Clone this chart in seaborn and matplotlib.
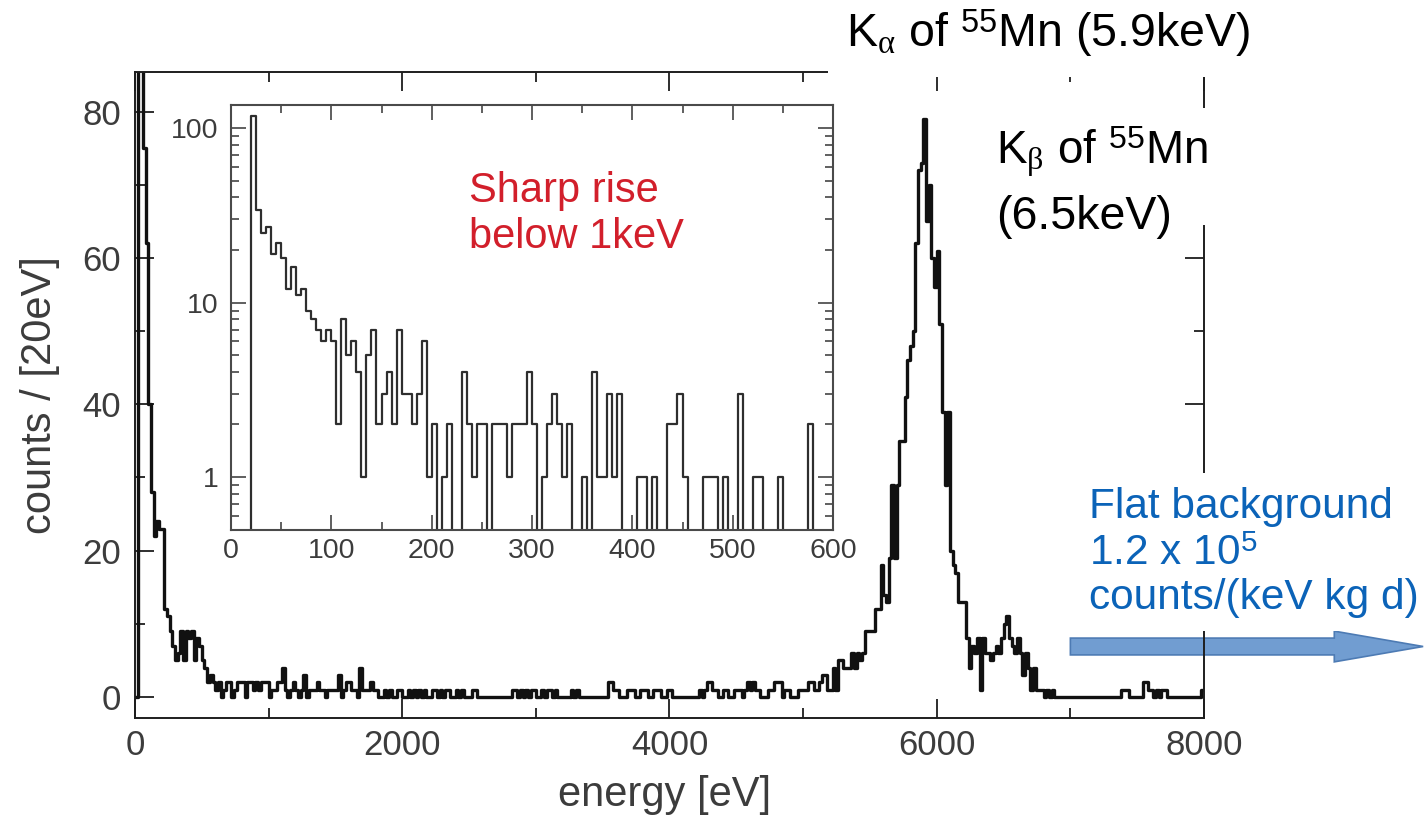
import numpy as np
import pandas as pd
import matplotlib
matplotlib.use("Agg")
import matplotlib.pyplot as plt
import seaborn as sns
from matplotlib.patches import FancyArrow, Rectangle
from matplotlib.ticker import MultipleLocator, LogLocator, FixedLocator, NullFormatter, FuncFormatter

# ---------------------------------------------------------------
# Full spectrum: counts per 20 eV bin, 0 - 8000 eV (400 bins)
# ---------------------------------------------------------------
spectrum_bin_ev = 20
spectrum_counts = [
    0, 150, 115, 75, 62, 40, 28, 22, 24, 23, 23, 12, 11, 9, 7, 5, 6, 9, 5, 9,
    8, 9, 5, 8, 7, 5, 4, 2, 3, 2, 1, 2, 0, 1, 2, 2, 0, 1, 2, 2,
    2, 0, 2, 2, 1, 2, 1, 2, 2, 2, 0, 1, 1, 2, 2, 4, 1, 0, 1, 2,
    1, 0, 1, 3, 0, 1, 1, 1, 2, 1, 1, 0, 1, 1, 1, 1, 3, 0, 1, 2,
    2, 1, 1, 0, 4, 1, 1, 1, 2, 1, 1, 0, 0, 1, 0, 1, 0, 0, 1, 1,
    0, 0, 1, 0, 1, 0, 1, 0, 1, 0, 0, 1, 1, 0, 1, 0, 1, 1, 0, 0,
    1, 0, 1, 0, 0, 0, 1, 1, 0, 0, 0, 0, 0, 0, 0, 0, 0, 0, 0, 0,
    0, 1, 1, 0, 1, 0, 1, 0, 1, 1, 0, 0, 1, 0, 1, 1, 0, 1, 0, 0,
    0, 0, 0, 1, 0, 1, 0, 0, 0, 0, 0, 0, 0, 0, 0, 0, 0, 2, 2, 1,
    1, 0, 0, 0, 1, 1, 1, 0, 0, 1, 1, 1, 0, 0, 1, 1, 1, 0, 0, 1,
    1, 0, 0, 0, 0, 0, 0, 0, 0, 0, 0, 1, 0, 1, 2, 2, 1, 1, 0, 0,
    1, 1, 0, 0, 1, 1, 1, 0, 1, 2, 1, 2, 1, 1, 0, 0, 0, 1, 1, 2,
    2, 2, 0, 1, 1, 0, 0, 0, 1, 1, 1, 1, 2, 2, 1, 1, 2, 3, 3, 1,
    1, 4, 1, 5, 5, 4, 4, 4, 6, 4, 6, 5, 6, 9, 9, 9, 9, 12, 12, 18,
    14, 13, 19, 29, 19, 29, 35, 35, 41, 46, 48, 50, 62, 72, 73, 79, 65, 70, 60, 56,
    61, 51, 39, 29, 39, 20, 18, 17, 13, 13, 13, 8, 4, 7, 6, 8, 1, 8, 6, 6,
    5, 6, 7, 6, 8, 10, 11, 8, 7, 6, 8, 6, 3, 6, 4, 1, 4, 1, 1, 1,
    0, 1, 0, 1, 0, 0, 0, 0, 0, 0, 0, 0, 0, 0, 0, 0, 0, 0, 0, 0,
    0, 0, 0, 0, 0, 0, 0, 0, 0, 1, 1, 1, 0, 0, 0, 0, 0, 2, 2, 1,
    1, 0, 1, 0, 1, 1, 0, 0, 0, 0, 0, 0, 0, 0, 0, 0, 0, 0, 0, 1,
]

# ---------------------------------------------------------------
# Low-energy region: counts per 5 eV bin, 0 - 600 eV (120 bins)
# ---------------------------------------------------------------
zoom_bin_ev = 5
zoom_counts = [
    0, 0, 0, 0, 117, 34, 25, 27, 19, 22, 18, 12, 16, 11, 12, 9, 8, 7, 6, 7,
    6, 2, 8, 5, 6, 4, 1, 5, 7, 2, 3, 4, 2, 7, 3, 3, 2, 3, 6, 1,
    2, 0, 1, 2, 0, 0, 4, 2, 1, 2, 2, 0, 2, 2, 2, 1, 2, 2, 2, 4,
    2, 0, 1, 2, 3, 2, 1, 2, 0, 0, 1, 0, 4, 1, 1, 3, 1, 3, 0, 0,
    0, 1, 1, 0, 1, 0, 0, 2, 2, 3, 1, 0, 0, 0, 1, 1, 1, 0, 1, 0,
    0, 3, 0, 0, 1, 1, 0, 0, 0, 1, 0, 0, 0, 0, 0, 2, 0, 0, 0, 0,
]

main_xticks = [0, 2000, 4000, 6000, 8000]
main_yticks = [0, 20, 40, 60, 80]
inset_xticks = [0, 100, 200, 300, 400, 500, 600]
inset_yticks = [1, 10, 100]


def binned_frame(counts, width):
    counts = np.asarray(counts, dtype=float)
    edges = np.arange(len(counts) + 1) * width
    centers = edges[:-1] + width / 2
    return pd.DataFrame({"energy": centers, "counts": counts}), edges.tolist()


spec_df, spec_edges = binned_frame(spectrum_counts, spectrum_bin_ev)
zoom_df, zoom_edges = binned_frame(zoom_counts, zoom_bin_ev)

sns.set_theme(style="ticks")
plt.rcParams["font.family"] = ["Liberation Sans", "DejaVu Sans"]
plt.rcParams["mathtext.fontset"] = "custom"
plt.rcParams["mathtext.rm"] = "Liberation Sans"
plt.rcParams["mathtext.it"] = "Liberation Serif"
plt.rcParams["mathtext.bf"] = "Liberation Sans:bold"

W, H = 1424, 822
fig = plt.figure(figsize=(W / 100, H / 100), dpi=100)
fig.patch.set_facecolor("white")

LABEL_GRAY = "#3c3c3c"
AXIS_DARK = "#1e1e1e"

# ---------------- main spectrum ----------------
ax = fig.add_axes([135 / W, 1 - 718 / H, (1204 - 135) / W, (718 - 72) / H])
sns.histplot(data=spec_df, x="energy", weights="counts", bins=spec_edges,
             element="step", fill=False, color="#111111", linewidth=2.4, ax=ax)
ax.set_xlim(0, 8000)
ax.set_ylim(-2.87, 85.4)
ax.set_xticks(main_xticks)
ax.set_yticks(main_yticks)
ax.xaxis.set_minor_locator(MultipleLocator(1000))
ax.yaxis.set_minor_locator(MultipleLocator(10))
ax.tick_params(which="both", direction="in", top=True, right=True,
               color=AXIS_DARK, width=1.3)
ax.tick_params(which="major", length=14, labelsize=25, labelcolor=LABEL_GRAY)
ax.tick_params(axis="x", which="major", pad=8)
ax.tick_params(axis="y", which="major", pad=10)
ax.tick_params(which="minor", length=7)
for sp in ax.spines.values():
    sp.set_linewidth(1.4)
    sp.set_color(AXIS_DARK)
ax.set_xlabel("energy [eV]", fontsize=30, color=LABEL_GRAY, labelpad=12)
ax.xaxis.set_label_coords(0.495, -0.088)
ax.set_ylabel("counts / [20eV]", fontsize=30, color=LABEL_GRAY, labelpad=16)

# flat-background arrow, drawn beneath the frame
arrow = FancyArrow(7000, 6.9, 2640, 0, width=2.3, head_width=4.2,
                   head_length=665, length_includes_head=True,
                   facecolor="#719dd1", edgecolor="#4d7bb4", linewidth=1.2,
                   clip_on=False, zorder=1)
ax.add_patch(arrow)

# ---------------- low-energy inset ----------------
axi = fig.add_axes([231 / W, 1 - 530 / H, (833 - 231) / W, (530 - 105) / H])
sns.histplot(data=zoom_df, x="energy", weights="counts", bins=zoom_edges,
             element="step", fill=False, color="#2e2e2e", linewidth=1.6, ax=axi)
axi.set_yscale("log")
axi.set_xlim(0, 600)
axi.set_ylim(0.497, 135.5)
axi.set_xticks(inset_xticks)
axi.xaxis.set_minor_locator(MultipleLocator(50))
axi.yaxis.set_major_locator(FixedLocator(inset_yticks))
axi.yaxis.set_major_formatter(FuncFormatter(lambda v, p: f"{v:g}"))
axi.yaxis.set_minor_locator(LogLocator(base=10, subs=np.arange(2, 10)))
axi.yaxis.set_minor_formatter(NullFormatter())
axi.tick_params(which="both", direction="in", top=True, right=True,
                color="#444444", width=1.2)
axi.tick_params(which="major", length=11, labelsize=20.5, labelcolor=LABEL_GRAY)
axi.tick_params(axis="x", which="major", pad=6)
axi.tick_params(axis="y", which="major", pad=9)
axi.tick_params(which="minor", length=6)
for sp in axi.spines.values():
    sp.set_linewidth(1.5)
    sp.set_color("#4a4a4a")
axi.set_xlabel("")
axi.set_ylabel("")


# ---------------- annotations ----------------
def put(x, y, s, size, color, **kw):
    return fig.text(x / W, 1 - y / H, s, fontsize=size, color=color,
                    ha="left", va="baseline", zorder=4, **kw)


white_box = dict(boxstyle="square,pad=0.38", facecolor="white", edgecolor="none")

put(846, 47, r"K$_{\alpha}$ of $^{\mathregular{55}}$Mn (5.9keV)", 33.5, "black",
    bbox=white_box)

# white backing behind the K-beta label
fig.add_artist(Rectangle((984 / W, 1 - 225 / H), (1222 - 984) / W, (225 - 108) / H,
                         transform=fig.transFigure, facecolor="white",
                         edgecolor="none", zorder=3))
put(996, 164, r"K$_{\beta}$ of $^{\mathregular{55}}$Mn", 33, "black")
put(996, 229, "(6.5keV)", 33.5, "black")

RED = "#d21f2b"
put(469, 202, "Sharp rise", 30, RED)
put(469, 248, "below 1keV", 30, RED)

BLUE = "#0b63b8"
fig.add_artist(Rectangle((1076 / W, 1 - 631 / H), (W - 1076) / W, (631 - 473) / H,
                         transform=fig.transFigure, facecolor="white",
                         edgecolor="none", zorder=3))
put(1089, 518, "Flat background", 30.5, BLUE)
put(1089, 565, r"1.2 x 10$^{\mathregular{5}}$", 30.5, BLUE)
put(1089, 609, "counts/(keV kg d)", 30.5, BLUE)

fig.savefig("out.png", dpi=100, facecolor="white")
